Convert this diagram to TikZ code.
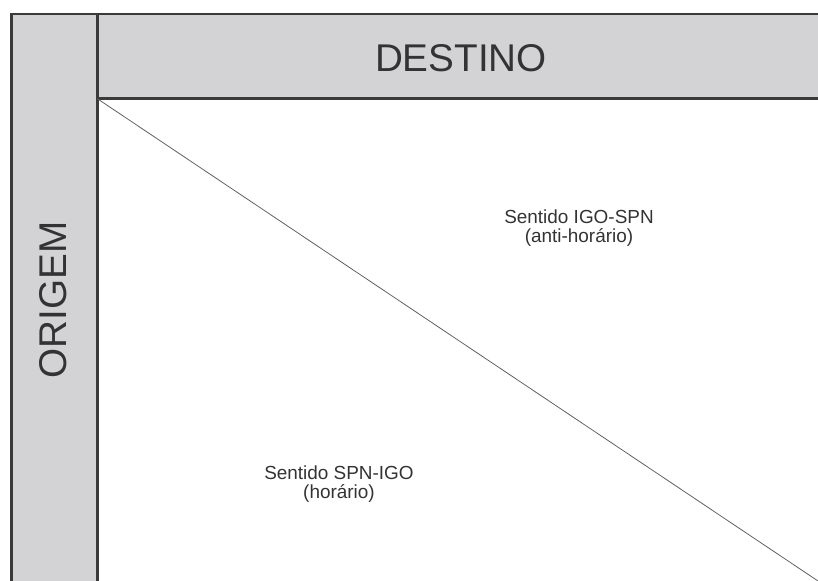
\documentclass[tikz,border=0pt]{standalone}
\usepackage{fontspec}
\setmainfont{Liberation Sans}
\definecolor{barfill}{HTML}{D3D3D5}
\definecolor{barline}{HTML}{3A3A3A}
\definecolor{txt}{HTML}{333333}

\begin{document}
\begin{tikzpicture}[x=0.75pt,y=-0.75pt,
  bar/.style={fill=barfill,draw=none},
  rim/.style={draw=barline,line width=2.1pt},
  big/.style={text=txt,font=\fontsize{29}{32}\selectfont,inner sep=0pt},
  small/.style={text=txt,font=\fontsize{14.2}{14.5}\selectfont,align=center,inner sep=0pt}]
\path[use as bounding box,clip] (0,0) rectangle (818,581);
\coordinate (tl) at (11.3,14);
\coordinate (corner) at (97.3,98.7);
\coordinate (far) at (830,581);
\coordinate (end) at (818,581);
% bars
\fill[bar] (tl) rectangle (97.3,600);
\fill[bar] (97.3,14) rectangle (830,98.7);
\draw[rim] (11.3,600) -- (tl) -- (830,14);
\draw[rim] (97.3,600) -- (97.3,14);
\draw[rim] (corner) -- (830,98.7);
\node[big] (dest) at (461,58) {DESTINO};
\node[big,rotate=90] (orig) at (53,300) {ORIGEM};
% diagonal
\draw[draw=barline!80,line width=0.6pt] (corner) -- (end);
\node[small] (anti) at (579,228) {Sentido IGO-SPN\\(anti-hor\'ario)};
\node[small] (hor) at (339,484) {Sentido SPN-IGO\\(hor\'ario)};
\end{tikzpicture}
\end{document}
